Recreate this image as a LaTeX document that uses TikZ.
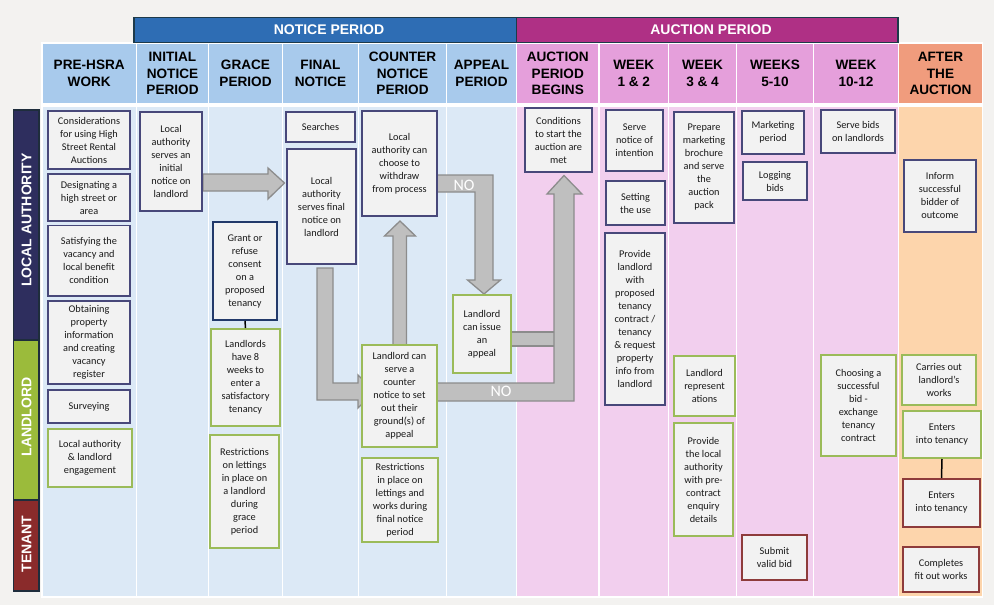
\documentclass[tikz,border=0pt]{standalone}
\usepackage{fontspec}
\setmainfont{Carlito}
\newfontfamily\hdrfont{Liberation Sans}
\usetikzlibrary{calc}
\definecolor{bgc}{HTML}{F3F2F0}
\definecolor{hblue}{HTML}{A8CAEC}
\definecolor{bblue}{HTML}{DCE9F6}
\definecolor{hpink}{HTML}{E59FDB}
\definecolor{bpink}{HTML}{F2CFEE}
\definecolor{horange}{HTML}{F09C7D}
\definecolor{borange}{HTML}{FDD5AC}
\definecolor{barblue}{HTML}{2E6DB4}
\definecolor{barpink}{HTML}{AF3085}
\definecolor{baredge}{HTML}{1D3A4A}
\definecolor{lanela}{HTML}{2E2E5E}
\definecolor{lanell}{HTML}{9BBB3B}
\definecolor{lanetn}{HTML}{8A2B2B}
\definecolor{laneedge}{HTML}{1E2D3C}
\definecolor{boxfill}{HTML}{F2F2F2}
\definecolor{navy}{HTML}{48487A}
\definecolor{deepblue}{HTML}{22396A}
\definecolor{lgreen}{HTML}{9BBB59}
\definecolor{tred}{HTML}{8E3B3B}
\definecolor{txt}{HTML}{1A1A1A}
\definecolor{arrfill}{HTML}{BFBFBF}
\definecolor{arredge}{HTML}{8C8C8C}
\newcommand\mybox[7]{\node[#2,minimum width={(#5-#3-1.8)*1pt},minimum height={(#6-#4-1.8)*1pt}] (#1) at ({(#3+#5)/2},{(#4+#6)/2}) {#7};}
\newcommand\mycol[6]{%
  \path[fill=#3,draw=white,line width=1.5pt] (#1,43) rectangle (#2,104);
  \node[hd] (#6) at ({(#1+#2)/2},73.5) {#5};
  \path[fill=#4,draw=white,line width=1.5pt] (#1,106) rectangle (#2,597);}
\begin{document}
\begin{tikzpicture}[x=1pt,y=-1pt,
  bx/.style={draw,fill=boxfill,line width=1.8pt,align=center,inner sep=0pt,
    font=\fontsize{10.3}{13}\selectfont,text=txt},
  la/.style={bx,draw=navy},
  ll/.style={bx,draw=lgreen},
  tn/.style={bx,draw=tred},
  hd/.style={font=\hdrfont\bfseries\fontsize{13.6}{16.6}\selectfont,align=center,text=black},
  bar/.style={draw=baredge,line width=1.8pt},
  lane/.style={draw=laneedge,line width=1.5pt},
  lanetext/.style={rotate=90,text=white,font=\hdrfont\bfseries\fontsize{14}{16}\selectfont},
  blk/.style={fill=arrfill,draw=arredge,line width=1.3pt,line join=miter},
  nolab/.style={text=white,font=\fontsize{16}{18}\selectfont},
  link/.style={draw=black,line width=1.5pt}]
\fill[bgc] (0,0) rectangle (994,605);
% columns
\mycol{42}{136.5}{hblue}{bblue}{PRE-HSRA\\WORK}{h1}
\mycol{136.5}{208.5}{hblue}{bblue}{INITIAL\\NOTICE\\PERIOD}{h2}
\mycol{208.5}{282.5}{hblue}{bblue}{GRACE\\PERIOD}{h3}
\mycol{282.5}{358.5}{hblue}{bblue}{FINAL\\NOTICE}{h4}
\mycol{358.5}{446.5}{hblue}{bblue}{COUNTER\\NOTICE\\PERIOD}{h5}
\mycol{446.5}{516.5}{hblue}{bblue}{APPEAL\\PERIOD}{h6}
\mycol{516.5}{599}{hpink}{bpink}{AUCTION\\PERIOD\\BEGINS}{h7}
\mycol{599}{668.5}{hpink}{bpink}{WEEK\\1 \& 2}{h8}
\mycol{668.5}{736.5}{hpink}{bpink}{WEEK\\3 \& 4}{h9}
\mycol{736.5}{813.5}{hpink}{bpink}{WEEKS\\5-10}{h10}
\mycol{813.5}{898.5}{hpink}{bpink}{WEEK\\10-12}{h11}
\mycol{898.5}{982.5}{horange}{borange}{AFTER\\THE\\AUCTION}{h12}
% top bars
\path[bar,fill=barblue] (134,17.5) rectangle (516.5,42.5);
\node[text=white,font=\hdrfont\bfseries\fontsize{14}{16}\selectfont] (np) at (329,30) {NOTICE PERIOD};
\path[bar,fill=barpink] (516.5,17.5) rectangle (898,42.5);
\node[text=white,font=\hdrfont\bfseries\fontsize{14}{16}\selectfont] (ap) at (711,30) {AUCTION PERIOD};
% lanes
\path[lane,fill=lanela] (13.5,110) rectangle (39,340);
\path[lane,fill=lanell] (13.5,340) rectangle (39,500);
\path[lane,fill=lanetn] (13.5,500) rectangle (39,591);
\node[lanetext] (lla) at (26.5,220) {LOCAL AUTHORITY};
\node[lanetext] (lll) at (26.5,417) {LANDLORD};
\node[lanetext] (ltn) at (26.5,544) {TENANT};
% block arrows (drawn below the boxes)
\draw[blk] (203,174) -- (268,174) -- (268,168) -- (284.5,183) -- (268,199) -- (268,191) -- (203,191) -- cycle;
\draw[blk] (317,268) -- (333,268) -- (333,383) -- (358,383) -- (358,375) -- (375,391.5) -- (358,408) -- (358,400) -- (317,400) -- cycle;
\draw[blk] (393,346) -- (393,236) -- (384.5,236) -- (400,221) -- (415.5,236) -- (406.5,236) -- (406.5,346) -- cycle;
\draw[blk] (436,175) -- (493,175) -- (493,280) -- (500.5,280) -- (484,294) -- (467.5,280) -- (475,280) -- (475,192) -- (436,192) -- cycle;
\draw[blk] (510,332) -- (555,332) -- (555,346) -- (510,346) -- cycle;
\draw[blk] (436,383) -- (554,383) -- (554,194) -- (547,194) -- (564,175.5) -- (582,194) -- (574,194) -- (574,401) -- (436,401) -- cycle;
\node[nolab] (no1) at (464,185) {NO};
\node[nolab] (no2) at (501,391.5) {NO};
% PRE-HSRA
\mybox{c1}{la}{47}{110}{131}{170}{Considerations\\for using High\\Street Rental\\Auctions}
\mybox{c2}{la}{47}{173}{131}{222}{Designating a\\high street or\\area}
\mybox{c3}{la}{47}{224.5}{131}{297}{Satisfying the\\vacancy and\\local benefit\\condition}
\mybox{c4}{la}{47}{300}{131}{385}{Obtaining\\property\\information\\and creating\\vacancy\\register}
\mybox{c5}{la}{47}{389}{131}{424}{Surveying}
\mybox{c6}{ll}{47}{428}{133}{488}{Local authority\\\& landlord\\engagement}
% initial notice
\mybox{in}{la}{139}{111}{203}{212}{Local\\authority\\serves an\\initial\\notice on\\landlord}
% grace
\mybox{gr}{bx,draw=deepblue}{212}{221}{278}{321}{Grant or\\refuse\\consent\\on a\\proposed\\tenancy}
\mybox{lh}{ll}{210}{328}{281}{427}{Landlords\\have 8\\weeks to\\enter a\\satisfactory\\tenancy}
\mybox{rg}{ll}{209}{434}{280}{549}{Restrictions\\on lettings\\in place on\\a landlord\\during\\grace\\period}
% final notice
\mybox{se}{la}{285}{111}{356}{143}{Searches}
\mybox{fn}{la}{286}{148}{357}{265}{Local\\authority\\serves final\\notice on\\landlord}
% counter notice
\mybox{wd}{la}{361}{110}{438}{217}{Local\\authority can\\choose to\\withdraw\\from process}
\mybox{cn}{ll}{361}{344}{438}{448}{Landlord can\\serve a\\counter\\notice to set\\out their\\ground(s) of\\appeal}
\mybox{rf}{ll}{361}{457}{439}{543}{Restrictions\\in place on\\lettings and\\works during\\final notice\\period}
% appeal
\mybox{apl}{ll}{452}{294}{512}{374}{Landlord\\can issue\\an\\appeal}
% auction begins
\mybox{cs}{la}{524}{107}{593}{173}{Conditions\\to start the\\auction are\\met}
% week 1&2
\mybox{sn}{la}{605}{109}{664}{172}{Serve\\notice of\\intention}
\mybox{su}{la}{605}{180}{666}{226}{Setting\\the use}
\mybox{pl}{la}{604}{232}{666}{406}{Provide\\landlord\\with\\proposed\\tenancy\\contract /\\tenancy\\\& request\\property\\info from\\landlord}
% week 3&4
\mybox{pm}{la}{673}{111}{735}{224}{Prepare\\marketing\\brochure\\and serve\\the\\auction\\pack}
\mybox{lr}{ll}{673}{355}{736}{417}{Landlord\\represent\\ations}
\mybox{pc}{ll}{673}{422}{734}{537}{Provide\\the local\\authority\\with pre-\\contract\\enquiry\\details}
% weeks 5-10
\mybox{mp}{la}{741}{110}{805}{155}{Marketing\\period}
\mybox{lb}{la}{742}{161}{808}{201}{Logging\\bids}
\mybox{sv}{tn}{741}{534}{808}{581}{Submit\\valid bid}
% week 10-12
\mybox{sb}{la}{820}{109}{896}{154}{Serve bids\\on landlords}
\mybox{cb}{ll}{820}{354}{897}{457}{Choosing a\\successful\\bid -\\exchange\\tenancy\\contract}
% after the auction
\mybox{ib}{la}{903}{159}{977}{233}{Inform\\successful\\bidder of\\outcome}
\mybox{co}{ll}{901}{354}{977}{406}{Carries out\\landlord’s\\works}
\mybox{et1}{ll}{902}{410}{982}{459}{Enters\\into tenancy}
\mybox{et2}{tn}{902}{478}{981}{528}{Enters\\into tenancy}
\mybox{cf}{tn}{902}{546}{980}{593}{Completes\\fit out works}
% plain links
\draw[link] (gr.south) -- (lh.north);
\draw[link] (et1.south) -- (et2.north);
\end{tikzpicture}
\end{document}
